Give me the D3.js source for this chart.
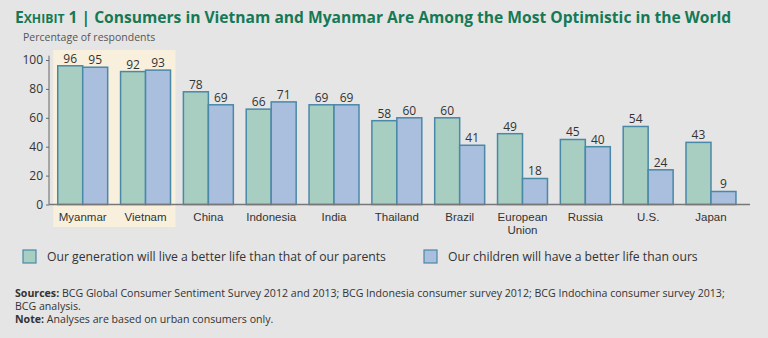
<!DOCTYPE html>
<html>
<head>
<meta charset="utf-8">
<script src="https://cdn.jsdelivr.net/npm/d3@7.9.0/dist/d3.min.js"></script>
<style>
  html, body { margin: 0; padding: 0; background: #e5e5e5; }
  svg { display: block; font-family: "Open Sans", "Noto Sans", sans-serif; }
</style>
</head>
<body>
<svg id="chart" width="768" height="338"></svg>
<script>
// Survey results, share of respondents (%)
const countries = ["Myanmar", "Vietnam", "China", "Indonesia", "India", "Thailand",
  "Brazil", "European Union", "Russia", "U.S.", "Japan"];
const ourGeneration = [96, 92, 78, 66, 69, 58, 60, 49, 45, 54, 43];
const ourChildren = [95, 93, 69, 71, 69, 60, 41, 18, 40, 24, 9];
const seriesNames = ["Our generation will live a better life than that of our parents",
  "Our children will have a better life than ours"];
const yTicks = [0, 20, 40, 60, 80, 100];
const highlighted = ["Myanmar", "Vietnam"];

const colors = ["#a7cec1", "#aabedd"];
const edge = "#4a88a8";
const green = "#167955";

const svg = d3.select("#chart");

const x = d3.scaleBand()
  .domain(countries)
  .range([51.3, 742.4])
  .paddingInner(0.205)
  .paddingOuter(0.1025);

const xSub = d3.scaleBand()
  .domain([0, 1])
  .range([0, x.bandwidth()]);

const y = d3.scaleLinear().domain([0, 100]).range([204.5, 60]);

// cream backdrop behind the two highlighted countries
svg.append("rect")
  .attr("x", x(highlighted[0]) - 4.5)
  .attr("y", 50)
  .attr("width", x(highlighted[1]) + x.bandwidth() + 5 - (x(highlighted[0]) - 4.5))
  .attr("height", 177)
  .attr("fill", "#f8f0dc");

// title
const title = svg.append("text")
  .attr("x", 15).attr("y", 23)
  .attr("fill", green)
  .attr("font-weight", 700)
  .attr("font-size", 15.6);
title.append("tspan").text("E");
title.append("tspan").attr("font-size", 12.2).text("XHIBIT");
title.append("tspan").text(" 1 | Consumers in Vietnam and Myanmar Are Among the Most Optimistic in the World");

svg.append("text")
  .attr("x", 23).attr("y", 41)
  .attr("fill", "#555")
  .attr("font-size", 10.5)
  .text("Percentage of respondents");

// y axis
const yAxis = svg.append("g")
  .attr("transform", "translate(49,0)")
  .call(d3.axisLeft(y).tickValues(yTicks).tickSize(3).tickPadding(3));
yAxis.select(".domain").attr("stroke", "#666").attr("d", `M0,${y(103)}V${y(0)}`);
yAxis.selectAll(".tick line").attr("stroke", "#666");
yAxis.selectAll(".tick text")
  .attr("fill", "#333")
  .attr("font-size", 12)
  .attr("font-family", "Open Sans, sans-serif");

// bars
const groups = svg.append("g").selectAll("g")
  .data(countries)
  .join("g")
  .attr("transform", d => `translate(${x(d)},0)`);

const bars = groups.selectAll("g")
  .data((d, i) => [ourGeneration[i], ourChildren[i]])
  .join("g");

bars.append("rect")
  .attr("x", (d, j) => xSub(j))
  .attr("y", d => y(d))
  .attr("width", xSub.bandwidth())
  .attr("height", d => y(0) - y(d))
  .attr("fill", (d, j) => colors[j])
  .attr("stroke", edge)
  .attr("stroke-width", 1.5);

bars.append("text")
  .attr("x", (d, j) => xSub(j) + xSub.bandwidth() / 2)
  .attr("y", d => y(d) - 3)
  .attr("text-anchor", "middle")
  .attr("fill", "#333")
  .attr("font-size", 12)
  .text(d => d);

// x axis
const xAxis = svg.append("g")
  .attr("transform", `translate(0,${y(0)})`)
  .call(d3.axisBottom(x).tickSize(0).tickPadding(0));
xAxis.select(".domain").attr("stroke", "#777").attr("stroke-width", 1.5)
  .attr("d", "M49,0H750");
xAxis.selectAll(".tick text").remove();
xAxis.selectAll(".tick").append("text")
  .attr("text-anchor", "middle")
  .attr("fill", "#333")
  .attr("font-size", 11.5)
  .selectAll("tspan")
  .data(d => d === "European Union" ? ["European", "Union"] : [d])
  .join("tspan")
  .attr("x", 0)
  .attr("y", (d, i) => 16 + i * 13)
  .text(d => d);

// legend
const legendX = [23, 424];
const legend = svg.append("g").selectAll("g")
  .data(seriesNames)
  .join("g")
  .attr("transform", (d, i) => `translate(${legendX[i]},250)`);
legend.append("rect")
  .attr("width", 13).attr("height", 13)
  .attr("fill", (d, i) => colors[i])
  .attr("stroke", edge)
  .attr("stroke-width", 1.2);
legend.append("text")
  .attr("x", 24).attr("y", 11)
  .attr("fill", "#333")
  .attr("font-size", 12.2)
  .text(d => d);

// footnotes
const notes = [
  ["Sources: ", "BCG Global Consumer Sentiment Survey 2012 and 2013; BCG Indonesia consumer survey 2012; BCG Indochina consumer survey 2013;"],
  ["", "BCG analysis."],
  ["Note: ", "Analyses are based on urban consumers only."]
];
const foot = svg.append("g").selectAll("text")
  .data(notes)
  .join("text")
  .attr("x", 15)
  .attr("y", (d, i) => 297 + i * 13)
  .attr("fill", "#333")
  .attr("font-size", 10.6);
foot.append("tspan").attr("font-weight", 700).text(d => d[0]);
foot.append("tspan").text(d => d[1]);
</script>
</body>
</html>
